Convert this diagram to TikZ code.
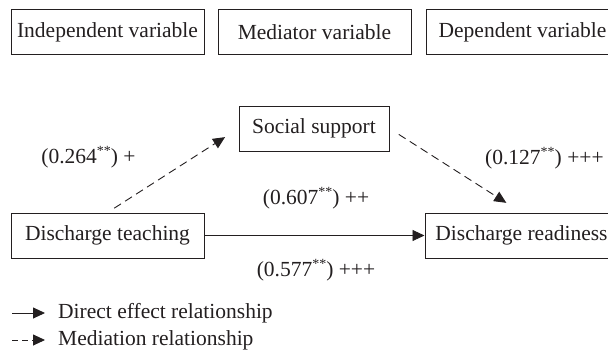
\documentclass[tikz,border=0pt]{standalone}
\usepackage{fontspec}
\setmainfont{Liberation Serif}
\usetikzlibrary{arrows.meta}
\definecolor{ink}{HTML}{231F20}
\newcommand{\sigstars}{\raisebox{0.36em}{\fontsize{14}{14}\selectfont **}}
\tikzset{
  box/.style={draw=ink, line width=1pt, minimum height=45pt, inner sep=0pt, text=ink},
  lbl/.style={text=ink, inner sep=0pt},
  direct/.style={draw=ink, line width=0.9pt, -{Triangle[length=12pt,width=11pt]}},
  mediation/.style={draw=ink, line width=0.9pt, dash pattern=on 8pt off 5pt, -{Triangle[length=12pt,width=11pt]}},
}
\begin{document}
\begin{tikzpicture}[x=1pt,y=-1pt,font=\fontsize{21.5}{25}\selectfont]
\useasboundingbox (0,0) rectangle (608,353);
% header row
\node[box, minimum width=193pt] (iv) at (107.5,32.5) {Independent variable};
\node[box, minimum width=193pt] (mv) at (314.5,32.5) {Mediator variable};
\node[box, minimum width=193pt] (dv) at (522.5,32.5) {Dependent variable};
% model
\node[box, minimum width=193pt] (dt) at (107.5,235.5) {Discharge teaching};
\node[box, minimum width=193pt] (dr) at (521.5,235.5) {Discharge readiness};
\node[box, minimum width=150pt] (ss) at (314,128.5) {Social support};
\draw[mediation, shorten <=8pt, shorten >=16pt] (dt.north) -- (ss.west);
\draw[mediation, shorten <=11pt, shorten >=18pt] (ss.east) -- (dr.north);
\draw[direct] (dt.east) -- (dr.west);
% labels
\node[lbl] (la) at (88.5,157) {(0.264\sigstars) +};
\node[lbl, anchor=west] (lb) at (485,158) {(0.127\sigstars) +++};
\node[lbl] (lc) at (316,198) {(0.607\sigstars) ++};
\node[lbl] (ld) at (316,270) {(0.577\sigstars) +++};
% legend
\coordinate (d1) at (12,313);
\coordinate (d2) at (45,313);
\coordinate (m1) at (12,340);
\coordinate (m2) at (45,340);
\draw[direct] (d1) -- (d2);
\draw[mediation, dash pattern=on 6pt off 4pt] (m1) -- (m2);
\node[lbl, anchor=west] (ltd) at (58,313) {Direct effect relationship};
\node[lbl, anchor=west] (ltm) at (58,340) {Mediation relationship};
\end{tikzpicture}
\end{document}
